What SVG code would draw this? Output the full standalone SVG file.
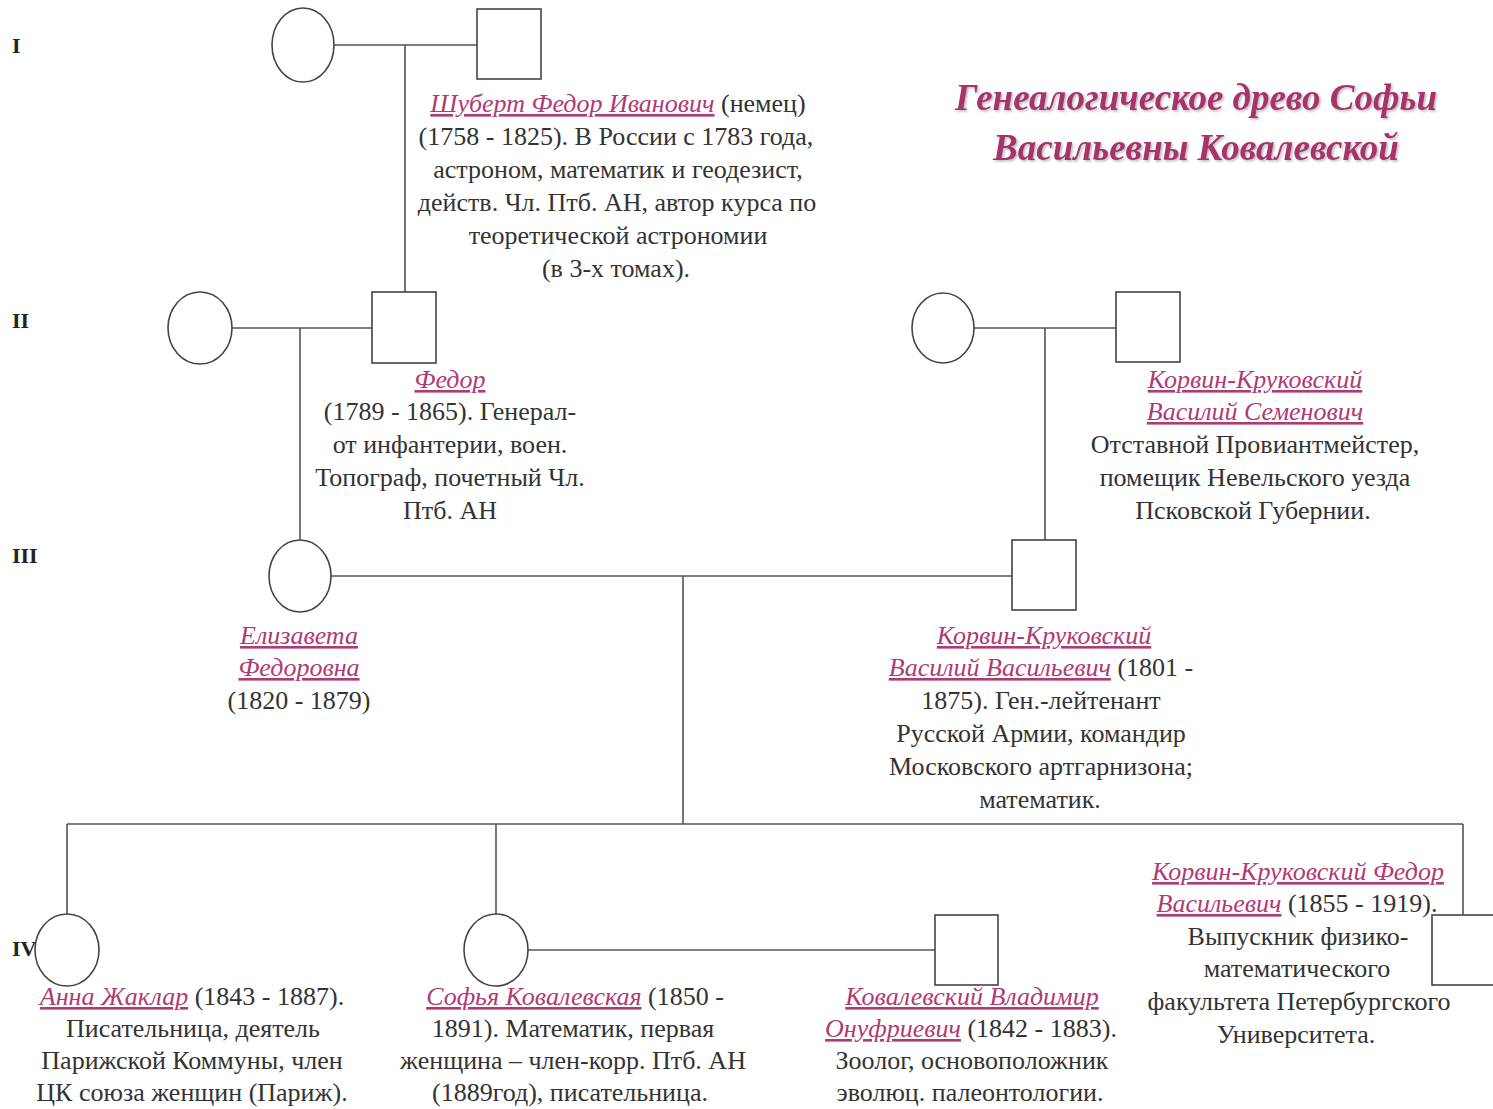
<svg xmlns="http://www.w3.org/2000/svg" width="1493" height="1109" viewBox="0 0 1493 1109">
<defs>
<style>
.bg{fill:#fff}
.sym{fill:#fff;stroke:#444;stroke-width:1.6}
.ln{stroke:#555;stroke-width:1.6;fill:none}
.gen{font-family:"Liberation Serif",serif;font-weight:bold;font-size:22px;fill:#222}
.t{font-family:"Liberation Serif",serif;font-size:26px;fill:#333;text-anchor:middle}
.n{font-style:italic;fill:#b03a74;text-decoration:underline}
.title{font-family:"Liberation Serif",serif;font-style:italic;font-weight:bold;font-size:37px;fill:#a8336c;text-anchor:middle}
</style>
<filter id="sh" x="-5%" y="-20%" width="110%" height="140%">
<feDropShadow dx="1.5" dy="1.5" stdDeviation="0.8" flood-color="#888" flood-opacity="0.6"/>
</filter>
</defs>
<rect class="bg" width="1493" height="1109"/>

<g id="generations">
<text class="gen" x="12" y="53">I</text>
<text class="gen" x="12" y="328">II</text>
<text class="gen" x="12" y="563">III</text>
<text class="gen" x="12" y="956">IV</text>
</g>

<g id="title" filter="url(#sh)">
<text class="title" x="1196" y="110">Генеалогическое древо Софьи</text>
<text class="title" x="1196" y="160">Васильевны Ковалевской</text>
</g>

<g id="connectors">
<path class="ln" d="M334 45H477M405 45V292"/>
<path class="ln" d="M232 328H372M300 328V540"/>
<path class="ln" d="M974 328H1116M1045 328V540"/>
<path class="ln" d="M331 576H1012M683 576V824M67 824H1463M67 824V914M496 824V914M1463 824V915"/>
<path class="ln" d="M528 950H935"/>
</g>

<g id="shubert-wife"><ellipse class="sym" cx="303" cy="45" rx="31" ry="37"/></g>
<g id="shubert-fi">
<rect class="sym" x="477" y="9" width="64" height="70"/>
<text class="t" x="618" y="112"><tspan class="n">Шуберт Федор Иванович</tspan> (немец)</text>
<text class="t" x="616" y="145">(1758 - 1825). В России с 1783 года,</text>
<text class="t" x="618" y="178">астроном, математик и геодезист,</text>
<text class="t" x="617" y="211">действ. Чл. Птб. АН, автор курса по</text>
<text class="t" x="618" y="244">теоретической астрономии</text>
<text class="t" x="616" y="277">(в 3-х томах).</text>
</g>

<g id="fedor-wife"><ellipse class="sym" cx="200" cy="328" rx="32" ry="36"/></g>
<g id="fedor">
<rect class="sym" x="372" y="292" width="64" height="71"/>
<text class="t" x="450" y="388"><tspan class="n">Федор</tspan></text>
<text class="t" x="450" y="420">(1789 - 1865). Генерал-</text>
<text class="t" x="450" y="453">от инфантерии, воен.</text>
<text class="t" x="450" y="486">Топограф, почетный Чл.</text>
<text class="t" x="450" y="519">Птб. АН</text>
</g>

<g id="kk-wife"><ellipse class="sym" cx="943" cy="328" rx="31" ry="35"/></g>
<g id="kk-vasily-s">
<rect class="sym" x="1116" y="292" width="64" height="70"/>
<text class="t" x="1255" y="388"><tspan class="n">Корвин-Круковский</tspan></text>
<text class="t" x="1255" y="420"><tspan class="n">Василий Семенович</tspan></text>
<text class="t" x="1255" y="453">Отставной Провиантмейстер,</text>
<text class="t" x="1255" y="486">помещик Невельского уезда</text>
<text class="t" x="1253" y="519">Псковской Губернии.</text>
</g>

<g id="elizaveta">
<ellipse class="sym" cx="300" cy="576" rx="31" ry="36"/>
<text class="t" x="299" y="644"><tspan class="n">Елизавета</tspan></text>
<text class="t" x="299" y="676"><tspan class="n">Федоровна</tspan></text>
<text class="t" x="299" y="709">(1820 - 1879)</text>
</g>

<g id="kk-vasily-v">
<rect class="sym" x="1012" y="540" width="64" height="70"/>
<text class="t" x="1044" y="644"><tspan class="n">Корвин-Круковский</tspan></text>
<text class="t" x="1041" y="676"><tspan class="n">Василий Васильевич</tspan> (1801 -</text>
<text class="t" x="1041" y="709">1875). Ген.-лейтенант</text>
<text class="t" x="1041" y="742">Русской Армии, командир</text>
<text class="t" x="1041" y="775">Московского артгарнизона;</text>
<text class="t" x="1040" y="808">математик.</text>
</g>

<g id="anna">
<ellipse class="sym" cx="67" cy="950" rx="32" ry="36"/>
<text class="t" x="192" y="1005"><tspan class="n">Анна Жаклар</tspan> (1843 - 1887).</text>
<text class="t" x="193" y="1037">Писательница, деятель</text>
<text class="t" x="192" y="1069">Парижской Коммуны, член</text>
<text class="t" x="192" y="1101">ЦК союза женщин (Париж).</text>
</g>

<g id="sofya">
<ellipse class="sym" cx="496" cy="950" rx="32" ry="36"/>
<text class="t" x="575" y="1005"><tspan class="n">Софья Ковалевская</tspan> (1850 -</text>
<text class="t" x="573" y="1037">1891). Математик, первая</text>
<text class="t" x="573" y="1069">женщина – член-корр. Птб. АН</text>
<text class="t" x="570" y="1101">(1889год), писательница.</text>
</g>

<g id="vladimir">
<rect class="sym" x="935" y="915" width="63" height="70"/>
<text class="t" x="972" y="1005"><tspan class="n">Ковалевский Владимир</tspan></text>
<text class="t" x="971" y="1037"><tspan class="n">Онуфриевич</tspan> (1842 - 1883).</text>
<text class="t" x="972" y="1069">Зоолог, основоположник</text>
<text class="t" x="970" y="1101">эволюц. палеонтологии.</text>
</g>

<g id="kk-fedor-v">
<rect class="sym" x="1432" y="915" width="64" height="70"/>
<text class="t" x="1298" y="880"><tspan class="n">Корвин-Круковский Федор</tspan></text>
<text class="t" x="1297" y="912"><tspan class="n">Васильевич</tspan> (1855 - 1919).</text>
<text class="t" x="1298" y="945">Выпускник физико-</text>
<text class="t" x="1297" y="977">математического</text>
<text class="t" x="1299" y="1010">факультета Петербургского</text>
<text class="t" x="1296" y="1043">Университета.</text>
</g>
</svg>
